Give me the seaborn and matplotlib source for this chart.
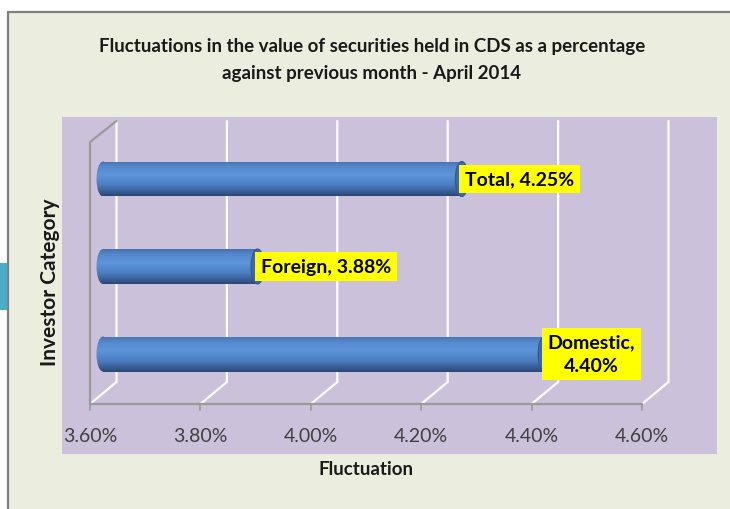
import numpy as np
import pandas as pd
import matplotlib
matplotlib.use("Agg")
import matplotlib.pyplot as plt
import matplotlib.transforms as mtrans
from matplotlib.patches import Rectangle, Ellipse
from matplotlib.lines import Line2D
from matplotlib.colors import LinearSegmentedColormap
import seaborn as sns

# ---------------- data ----------------
categories = ["Total", "Foreign", "Domestic"]
values = [4.25, 3.88, 4.40]
bar_labels = ["Total, 4.25%", "Foreign, 3.88%", "Domestic,\n4.40%"]
tick_values = [3.60, 3.80, 4.00, 4.20, 4.40, 4.60]
tick_labels = ["3.60%", "3.80%", "4.00%", "4.20%", "4.40%", "4.60%"]
title = "Fluctuations in the value of securities held in CDS as a percentage\nagainst previous month - April 2014"
x_title = "Fluctuation"
y_title = "Investor Category"

df = pd.DataFrame({"category": categories, "value": values})

sns.set_theme(style="white")
plt.rcParams["font.family"] = ["Lato", "DejaVu Sans"]

W, H = 730, 510
fig = plt.figure(figsize=(W / 100, H / 100), dpi=100)
fig.patch.set_facecolor("white")


def fx(px):
    return px / W


def fy(py):
    return 1 - py / H


# outer chart area
fig.patches.append(Rectangle((fx(8), 0), fx(722), fy(13), transform=fig.transFigure,
                             facecolor="#EBEEDF", edgecolor="none", zorder=-3))
fig.lines.append(Line2D([fx(8), fx(730)], [fy(13), fy(13)], transform=fig.transFigure,
                        color="#808080", lw=1.6, zorder=-2))
fig.lines.append(Line2D([fx(8), fx(8)], [fy(13), 0], transform=fig.transFigure,
                        color="#808080", lw=1.6, zorder=-2))
# small teal tab on the left edge
fig.patches.append(Rectangle((0, fy(311)), fx(7), (311 - 264) / H, transform=fig.transFigure,
                             facecolor="#4BACC6", edgecolor="none", zorder=-2))
# plot area (lavender)
fig.patches.append(Rectangle((fx(62), fy(455)), fx(717 - 62), (455 - 118) / H,
                             transform=fig.transFigure, facecolor="#CCC1DA",
                             edgecolor="none", zorder=-2))

# axes covering the plot area
ax = fig.add_axes([fx(62), fy(455), fx(717 - 62), (455 - 118) / H])
ax.patch.set_alpha(0)
ax.set_zorder(2)

PX_PER_UNIT = 552.0      # pixels per 1.00 %
X0_PX = 90.0             # pixel of 3.60 %
ROW_PX = 87.5
ROW0_PX = 180.0

sns.barplot(data=df, x="value", y="category", orient="h", ax=ax, width=0.4,
            color="#4F81BD", saturation=1)

xmin = 3.60 - (X0_PX - 62) / PX_PER_UNIT
xmax = 3.60 + (717 - X0_PX) / PX_PER_UNIT
ax.set_xlim(xmin, xmax)
ax.set_ylim((455 - ROW0_PX) / ROW_PX, (118 - ROW0_PX) / ROW_PX)
for s in ax.spines.values():
    s.set_visible(False)
ax.set_xticks([])
ax.set_yticks([])
ax.set_xlabel("")
ax.set_ylabel("")

# -------- 3D-like walls / gridlines --------
depth_dx = 26.5 / PX_PER_UNIT
y_back_top = (122 - ROW0_PX) / ROW_PX
y_back_bot = (383 - ROW0_PX) / ROW_PX
y_floor = (405 - ROW0_PX) / ROW_PX
y_tick_end = (411 - ROW0_PX) / ROW_PX
y_side_top = (143 - ROW0_PX) / ROW_PX

for t in tick_values:
    ax.plot([t + depth_dx, t + depth_dx, t], [y_back_top, y_back_bot, y_floor],
            color="white", lw=1.6, zorder=1, solid_joinstyle="miter")
# floor front edge and tick marks
ax.plot([tick_values[0], tick_values[-1]], [y_floor, y_floor], color="#9A9A9A", lw=1.6, zorder=2)
for t in tick_values:
    ax.plot([t, t], [y_floor, y_tick_end], color="#9A9A9A", lw=1.2, zorder=2)
# left side wall edge
ax.plot([tick_values[0] + depth_dx, tick_values[0], tick_values[0]],
        [y_back_top, y_side_top, y_floor], color="#9A9A9A", lw=1.6, zorder=2)

# -------- cylinder shading --------
cmap = LinearSegmentedColormap.from_list(
    "cyl", [(0.0, "#4570AC"), (0.15, "#5587CB"), (0.4, "#5E95DA"),
            (0.7, "#4A7CC0"), (0.9, "#36598E"), (1.0, "#2A4673")])
grad = np.linspace(0, 1, 256).reshape(-1, 1)
shift = mtrans.ScaledTranslation(13 / 100, 0, fig.dpi_scale_trans)
trans = ax.transData + shift
cap_w = 13 / PX_PER_UNIT
bar_h = 0.4

for i, patch in enumerate(list(ax.patches)):
    v = values[i]
    patch.set_x(3.60)
    patch.set_width(v - 3.60)
    patch.set_transform(trans)
    patch.set_facecolor("none")
    patch.set_edgecolor("none")
    yc = patch.get_y() + patch.get_height() / 2
    # left rounded end
    lcap = Ellipse((3.60, yc), cap_w, bar_h, transform=trans, facecolor="none", edgecolor="none")
    ax.add_patch(lcap)
    for clip in (patch, lcap):
        im = ax.imshow(grad, cmap=cmap, aspect="auto", origin="upper",
                       extent=(3.60 - cap_w, v, yc + bar_h / 2, yc - bar_h / 2),
                       transform=trans, zorder=3, interpolation="bilinear")
        im.set_clip_path(clip)
    # right end cap
    rcap = Ellipse((v, yc), cap_w, bar_h, transform=trans, facecolor="#3F69A6",
                   edgecolor="#34578C", lw=0.8, zorder=4)
    ax.add_patch(rcap)
    # data label
    ax.text(v, yc, bar_labels[i], transform=trans + mtrans.ScaledTranslation(3 / 100, 0, fig.dpi_scale_trans),
            ha="left", va="center", multialignment="center", fontsize=14,
            fontweight="bold", color="black", zorder=6, linespacing=1.5,
            bbox=dict(boxstyle="square,pad=0.3", facecolor="#FFFF00", edgecolor="none"))

ax.set_xlim(xmin, xmax)
ax.set_ylim((455 - ROW0_PX) / ROW_PX, (118 - ROW0_PX) / ROW_PX)

# tick labels
for t, lab in zip(tick_values, tick_labels):
    ax.text(t, (437 - ROW0_PX) / ROW_PX, lab, ha="center", va="center",
            fontsize=14, color="#404040", zorder=5)

# titles
fig.text(fx(372), fy(60), title, ha="center", va="center", fontsize=13.5,
         fontweight="bold", color="#1A1A1A", linespacing=1.65)
fig.text(fx(366), fy(470), x_title, ha="center", va="center", fontsize=13.5,
         fontweight="bold", color="#1A1A1A")
fig.text(fx(50), fy(282), y_title, ha="center", va="center", fontsize=15,
         fontweight="bold", color="#1A1A1A", rotation=90)

fig.savefig("out.png", dpi=100, facecolor=fig.get_facecolor())
